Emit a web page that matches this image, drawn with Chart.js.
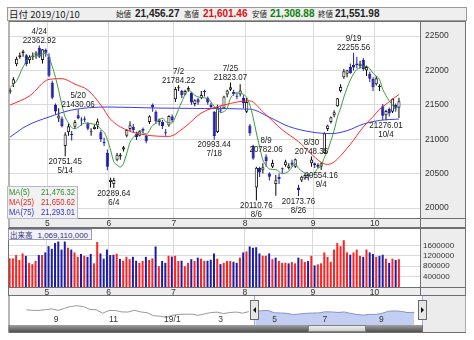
<!DOCTYPE html>
<html lang="ja">
<head>
<meta charset="utf-8">
<title>日経平均 日足</title>
<script src="https://cdn.jsdelivr.net/npm/chart.js"></script>
<style>
  html, body { margin: 0; padding: 0; background: #fff; }
  body { position: relative; width: 474px; height: 340px; overflow: hidden; }
  canvas { position: absolute; }
  #price { z-index: 1; }
  #volume { z-index: 2; }
  #nav { z-index: 2; }
  #head { position: absolute; left: 7px; top: 7px; width: 458px; height: 12px; background: #efefef;
          border: 1px solid #9a9a9a; color: #222; z-index: 5; font-family: "Noto Sans CJK JP", sans-serif; }
  #head span { position: absolute; top: 0; line-height: 12px; white-space: nowrap; }
  #head .lab { font-size: 7.5px; }
  #head .date { font-size: 9.5px; }
  #head .val { font: bold 10px "Liberation Sans", sans-serif; }
  #maBox { position: absolute; left: 7px; top: 186px; width: 69px; height: 31px; z-index: 5;
           background: rgba(240,240,240,0.9); border: 1px solid #b8b8c8;
           font: 9px "Liberation Sans", sans-serif; }
  #maBox div { position: relative; height: 10px; line-height: 10px; }
  #maBox span { position: absolute; left: 1px; transform: scaleX(0.85); transform-origin: left center; }
  #maBox i { position: absolute; right: 2px; font-style: normal; transform: scaleX(0.85); transform-origin: right center; }
  #volTitle { position: absolute; left: 8px; top: 229px; width: 82px; height: 9px; z-index: 5;
              background: #f2f2f8; border: 1px solid #9a9ac0; color: #33337a; white-space: nowrap;
              font: 8px "Liberation Sans", sans-serif; line-height: 9px; }
  #volTitle span { font-family: "Noto Sans CJK JP", sans-serif; font-size: 7.5px; margin: 0 5px 0 1px; }
</style>
</head>
<body>
<div id="head"></div>
<div id="maBox"></div>
<div id="volTitle"></div>
<canvas id="price"></canvas>
<canvas id="volume"></canvas>
<canvas id="nav"></canvas>
<script>
// ---- values ----
const dates = ['4/11','4/12','4/15','4/16','4/17','4/18','4/19','4/22','4/23','4/24','4/25','4/26',
  '5/7','5/8','5/9','5/10','5/13','5/14','5/15','5/16','5/17','5/20','5/21','5/22','5/23','5/24','5/27','5/28','5/29','5/30','5/31',
  '6/3','6/4','6/5','6/6','6/7','6/10','6/11','6/12','6/13','6/14','6/17','6/18','6/19','6/20','6/21','6/24','6/25','6/26','6/27','6/28',
  '7/1','7/2','7/3','7/4','7/5','7/8','7/9','7/10','7/11','7/12','7/16','7/17','7/18','7/19','7/22','7/23','7/24','7/25','7/26','7/29','7/30','7/31',
  '8/1','8/2','8/5','8/6','8/7','8/8','8/9','8/13','8/14','8/15','8/16','8/19','8/20','8/21','8/22','8/23','8/26','8/27','8/28','8/29','8/30',
  '9/2','9/3','9/4','9/5','9/6','9/9','9/10','9/11','9/12','9/13','9/17','9/18','9/19','9/20','9/24','9/25','9/26','9/27','9/30',
  '10/1','10/2','10/3','10/4','10/7','10/8','10/9','10/10'];

const opens = [21690,21800,22090,22190,22250,22220,22150,22190,22220,22330,22150,22300,
  22200,21820,21500,21300,21300,20900,21100,21080,21180,21350,21280,21300,21230,21100,21150,21200,21100,20960,20800,
  20380,20350,20700,20750,20850,21050,21150,21180,21080,21050,21150,21050,21250,21500,21400,21250,21250,21100,21200,21330,
  21580,21740,21700,21650,21720,21680,21510,21580,21600,21700,21600,21500,21400,21100,21430,21450,21650,21720,21690,21630,21650,21600,
  21400,21200,20900,20300,20580,20550,20750,20500,20600,20350,20450,20570,20620,20580,20660,20600,20300,20400,20430,20480,20650,
  20650,20600,20600,20800,21150,21250,21350,21480,21700,21900,21950,22050,22080,22100,22060,22150,22000,21950,21880,
  21800,21760,21480,21350,21440,21400,21500,21456.27];
const highs = [21740,21900,22200,22260,22300,22240,22220,22260,22280,22362.92,22310,22320,
  22250,21850,21520,21450,21330,21100,21230,21120,21280,21430.06,21320,21330,21250,21160,21210,21300,21130,21020,20850,
  20440,20440,20800,20800,20900,21150,21260,21220,21110,21130,21170,21060,21350,21520,21420,21300,21280,21150,21350,21360,
  21758,21784.22,21720,21720,21770,21690,21580,21600,21700,21720,21620,21530,21410,21500,21480,21630,21720,21823.07,21720,21680,21800,21640,
  21600,21220,20920,20600,20600,20650,20782.06,20520,20700,20480,20500,20590,20700,20650,20700,20720,20340,20470,20500,20500,20748.35,
  20660,20650,20660,21100,21210,21330,21420,21600,21800,22020,22010,22100,22255.56,22200,22140,22180,22070,21980,21900,
  21920,21800,21510,21430,21460,21590,21520,21601.46];
const lows = [21660,21760,22060,22170,22200,22060,22100,22150,22170,22180,22100,22200,
  21900,21580,21360,21250,21170,20751.45,21050,20980,21150,21290,21200,21250,21130,21050,21140,21150,20960,20900,20550,
  20300,20289.64,20680,20700,20820,21030,21120,21100,20990,21040,21080,20940,21220,21400,21230,21200,21150,21050,21180,21250,
  21540,21700,21600,21640,21690,21500,21480,21500,21580,21620,21500,21440,20993.44,21090,21380,21440,21610,21700,21630,21580,21620,21450,
  21380,21050,20700,20110.76,20450,20500,20600,20400,20580,20180,20350,20500,20600,20560,20600,20580,20173.76,20380,20410,20400,20600,
  20580,20580,20554.16,20790,21120,21230,21320,21470,21680,21880,21900,21950,22000,22030,22030,21990,21920,21830,21700,
  21780,21700,21280,21276.01,21330,21380,21400,21308.88];
const closes = [21711,21870,22169,22221,22277,22090,22200,22217,22259,22200,22307,22258,
  21923,21602,21402,21344,21191,21067,21188,21062,21250,21301,21272,21283,21151,21117,21182,21260,21003,20942,20601,
  20410,20408,20776,20774,20884,21134,21204,21129,21032,21116,21124,20972,21333,21462,21258,21285,21193,21086,21338,21275,
  21729,21754,21638,21702,21746,21534,21565,21533,21643,21685,21535,21469,21046,21466,21416,21620,21709,21756,21658,21616,21709,21521,
  21540,21087,20720,20585,20516,20593,20684,20455,20655,20405,20418,20563,20677,20618,20628,20710,20261,20456,20479,20460,20704,
  20620,20625,20649,21085,21199,21318,21392,21597,21759,21988,22001,21960,22044,22079,22098,22020,22048,21878,21755,
  21885,21778,21341,21410,21375,21587,21456,21551.98];
const closeBefore = 21687.57; // 4/10, colours the first volume bar

// volume in thousand shares
const volumes = [1100000,1100000,1230000,1040000,1290000,1200000,930000,880000,1000000,1230000,1230000,1330000,
  1570000,1470000,1690000,1750000,1440000,1750000,1510000,1440000,1330000,1160000,1270000,1200000,1160000,1270000,910000,1730000,1290000,1090000,1440000,
  1230000,1240000,1280000,1080000,1010000,1160000,1070000,1160000,1010000,930000,1000000,1160000,1040000,1100000,1560000,800000,1000000,930000,1200000,1170000,
  1200000,1000000,1010000,800000,930000,1070000,1000000,1130000,1090000,1010000,1010000,1050000,1290000,1090000,880000,930000,1000000,1000000,970000,930000,1130000,1330000,
  1370000,1560000,1510000,1530000,1290000,1200000,1200000,1290000,1070000,1130000,1000000,930000,930000,910000,960000,910000,1130000,1070000,960000,1000000,1200000,
  830000,870000,910000,1330000,1160000,970000,1440000,1690000,1570000,1800000,1330000,1240000,1330000,1440000,1200000,1160000,1440000,1330000,1270000,
  1160000,1200000,1240000,1090000,930000,1090000,1040000,1069110];

// moving averages: [day index, value]
const ma5 = [[0,21754],[2,21848],[4,22050],[6,22191],[8,22209],[10,22237],[11,22248],[12,22189],[13,22058],[14,21898],
  [15,21706],[16,21492],[17,21321],[18,21238],[19,21170],[20,21152],[21,21174],[23,21234],[25,21225],[27,21199],[28,21143],
  [29,21101],[30,20998],[31,20843],[32,20673],[33,20627],[34,20594],[35,20650],[36,20795],[37,20954],[38,21025],[39,21077],
  [40,21123],[42,21075],[44,21201],[45,21230],[47,21306],[48,21257],[50,21235],[51,21324],[52,21436],[53,21547],[55,21714],
  [57,21637],[59,21604],[61,21592],[63,21476],[64,21440],[65,21386],[66,21403],[67,21451],[68,21593],[70,21672],[72,21652],
  [73,21609],[74,21495],[75,21315],[76,21091],[77,20890],[78,20700],[79,20620],[80,20567],[82,20558],[84,20499],[86,20536],
  [88,20639],[89,20579],[91,20507],[93,20472],[95,20578],[96,20612],[97,20737],[98,20836],[99,20975],[100,21129],[101,21318],
  [102,21453],[103,21611],[104,21747],[105,21861],[106,21950],[107,22014],[108,22036],[110,22058],[111,22025],[112,21960],
  [113,21917],[114,21869],[115,21727],[116,21634],[117,21558],[118,21498],[119,21434],[120,21476]];
const ma25 = [[0,21497],[6,21628],[12,21870],[16,21880],[20,21800],[24,21713],[28,21497],[31,21290],[36,21134],[42,21061],
  [49,21041],[54,21180],[59,21381],[66,21497],[74,21558],[78,21399],[84,21137],[89,20965],[96,20665],[98,20634],[100,20670],
  [102,20760],[104,20869],[106,20985],[108,21119],[110,21232],[112,21327],[114,21435],[116,21508],[118,21580],[120,21650]];
const ma75 = [[0,21032],[5,21192],[12,21323],[19,21424],[30,21468],[45,21453],[60,21446],[74,21437],[80,21320],[86,21185],
  [93,21105],[99,21081],[104,21124],[109,21220],[114,21273],[120,21293]];
const maLatest = [['MA(5)', 21476.32, '#2f8f2f'], ['MA(25)', 21650.62, '#e82828'], ['MA(75)', 21293.01, '#3434c8']];

const priceTicks = [20000, 20500, 21000, 21500, 22000, 22500];
const volumeTicks = [400000, 800000, 1200000, 1600000];

const peaks = [['4/24',22362.92],['5/20',21430.06],['7/2',21784.22],['7/25',21823.07],['8/9',20782.06],['8/30',20748.35],['9/19',22255.56]];
const troughs = [['5/14',20751.45],['6/4',20289.64],['7/18',20993.44],['8/6',20110.76],['8/26',20173.76],['9/4',20554.16],['10/4',21276.01]];

// navigator: weekly closes 2018/8 - 2019/10
const navWeeks = ['8/3','8/10','8/17','8/24','8/31','9/7','9/14','9/21','9/28','10/5','10/12','10/19','10/26','11/2','11/9',
  '11/16','11/22','11/30','12/7','12/14','12/21','12/28','1/4','1/11','1/18','1/25','2/1','2/8','2/15','2/22','3/1','3/8',
  '3/15','3/22','3/29','4/5','4/12','4/19','4/26','5/10','5/17','5/24','5/31','6/7','6/14','6/21','6/28','7/5','7/12','7/19',
  '7/26','8/2','8/9','8/16','8/23','8/30','9/6','9/13','9/20','9/27','10/4','10/10'];
const navCloses = [22525,22298,22270,22601,22865,22307,23094,23870,24120,23784,22694,22532,21184,22243,22250,
  21680,21646,22351,21679,21374,20166,20015,19561,20359,20666,20773,20788,20333,20900,21425,21602,21025,
  21450,21627,21205,21807,21870,22200,22258,21344,21250,21117,20601,20884,21116,21258,21275,21746,21685,21466,
  21658,21087,20684,20418,20710,20704,21199,21988,22079,21878,21410,21551];
const navMonths = [[4.15,'9'],[12.85,'11'],[21.5,'19/1'],[30,'3'],[38.5,'5'],[46.4,'7'],[55.3,'9']];
const navRange = [35.8, 62.2];
const scrollThumb = [44.3, 53.4];

// ---- helpers ----
const FAM = '"Liberation Sans", sans-serif';
const DOWN = '#1c1ca4';
const n = dates.length;
const isUp = closes.map((c, i) => c >= opens[i]);
const volUp = closes.map((c, i) => c >= (i ? closes[i - 1] : closeBefore));
const monthStarts = [];
dates.forEach((d, i) => {
  const m = d.split('/')[0];
  if (i > 0 && m !== dates[i - 1].split('/')[0]) monthStarts.push({ i, label: m });
});
const fmt = v => v.toLocaleString('en-US', { minimumFractionDigits: 2, maximumFractionDigits: 2 });

Chart.defaults.font.family = FAM;
Chart.defaults.color = '#333';

// header, legend, volume title
const last = n - 1;
const head = document.getElementById('head');
head.innerHTML =
  '<span class="date" style="left:1px">日付 2019/10/10</span>' +
  '<span class="lab" style="left:108px">始値</span><span class="val" style="left:127px">' + fmt(opens[last]) + '</span>' +
  '<span class="lab" style="left:176px">高値</span><span class="val" style="left:195px;color:#e01010">' + fmt(highs[last]) + '</span>' +
  '<span class="lab" style="left:244px">安値</span><span class="val" style="left:262px;color:#108010">' + fmt(lows[last]) + '</span>' +
  '<span class="lab" style="left:310px">終値</span><span class="val" style="left:327px">' + fmt(closes[last]) + '</span>';
document.getElementById('maBox').innerHTML = maLatest.map(m =>
  '<div style="color:' + m[2] + '"><span>' + m[0] + '</span><i>' + fmt(m[1]) + '</i></div>').join('');
document.getElementById('volTitle').innerHTML = '<span>出来高</span>' + (volumes[last] * 1000).toLocaleString('en-US');

// gray axis panel + strip, white plot, frame
const panel = {
  id: 'panel',
  beforeDraw(chart, args, o) {
    const { ctx, chartArea: a } = chart;
    ctx.save();
    ctx.fillStyle = '#ededed';
    ctx.fillRect(a.left, a.top, a.right - a.left + o.rightW, a.bottom - a.top + o.stripH);
    ctx.fillStyle = '#fff';
    ctx.fillRect(a.left, a.top, a.right - a.left, a.bottom - a.top);
    ctx.restore();
  },
  afterDraw(chart, args, o) {
    const { ctx, chartArea: a } = chart;
    ctx.save();
    ctx.strokeStyle = '#707070';
    ctx.lineWidth = 1;
    ctx.strokeRect(a.left + 0.5, a.top + 0.5, a.right - a.left + o.rightW - 1, a.bottom - a.top + o.stripH - 1);
    ctx.beginPath();
    ctx.moveTo(a.right + 0.5, a.top);
    ctx.lineTo(a.right + 0.5, a.bottom + o.stripH);
    ctx.moveTo(a.left, a.bottom + 0.5);
    ctx.lineTo(a.right + o.rightW, a.bottom + 0.5);
    ctx.stroke();
    ctx.restore();
  }
};

// high / low captions (slightly condensed, like the original bitmap font)
function narrowText(ctx, t, x, y) {
  ctx.save();
  ctx.translate(x, y);
  ctx.scale(0.84, 1);
  ctx.fillText(t, 0, 0);
  ctx.restore();
}
const marks = {
  id: 'marks',
  afterDatasetsDraw(chart) {
    const { ctx, scales: { x, y } } = chart;
    ctx.save();
    ctx.font = '9.5px ' + FAM;
    ctx.fillStyle = '#222';
    ctx.textAlign = 'center';
    ctx.textBaseline = 'middle';
    peaks.forEach(([d, v]) => {
      const px = x.getPixelForValue(dates.indexOf(d)), py = y.getPixelForValue(v);
      narrowText(ctx, d, px, py - 14);
      narrowText(ctx, v.toFixed(2), px, py - 5);
    });
    troughs.forEach(([d, v]) => {
      const px = x.getPixelForValue(dates.indexOf(d)), py = y.getPixelForValue(v);
      narrowText(ctx, v.toFixed(2), px, py + 5);
      narrowText(ctx, d, px, py + 14);
    });
    ctx.restore();
  }
};

function monthAxis(stripH) {
  return {
    type: 'linear', min: -0.5, max: n + 5.5, bounds: 'data', offset: false,
    afterBuildTicks: s => { s.ticks = monthStarts.map(m => ({ value: m.i - 0.5 })); },
    afterFit: s => { s.height = stripH; },
    ticks: { autoSkip: false, maxRotation: 0, padding: 1, font: { size: 8.5, lineHeight: '9px' },
             callback: (v, k) => monthStarts[k] ? monthStarts[k].label : '' },
    grid: { color: '#dadada', drawTicks: false, offset: false },
    border: { display: false }
  };
}

// place chart so its plot area starts at (x, y)
function fitChart(canvas, x, y, w, h, config) {
  canvas.width = w;
  canvas.height = h;
  canvas.style.left = x + 'px';
  canvas.style.top = y + 'px';
  const chart = new Chart(canvas, config);
  const dx = Math.round(chart.chartArea.left), dy = Math.round(chart.chartArea.top);
  if (dx || dy) {
    canvas.style.left = (x - dx) + 'px';
    canvas.style.top = (y - dy) + 'px';
    chart.resize(w + dx, h + dy);
  }
  return chart;
}

const lineSet = (pts, color) => ({
  type: 'line', data: pts.map(p => ({ x: p[0], y: p[1] })), borderColor: color, borderWidth: 1,
  pointRadius: 0, cubicInterpolationMode: 'monotone', order: 0
});

const base = {
  responsive: false, maintainAspectRatio: false, animation: false, events: [],
  layout: { padding: 0 }
};

// ---- price chart ----
fitChart(document.getElementById('price'), 8, 21, 458, 207, {
  type: 'bar',
  data: {
    datasets: [
      lineSet(ma5, '#3f9a3f'),
      lineSet(ma25, '#ff2a2a'),
      lineSet(ma75, '#3c3cf0'),
      {
        data: dates.map((d, i) => ({ x: i, y: [opens[i], closes[i]] })),
        backgroundColor: isUp.map(u => u ? '#ffffff' : DOWN),
        borderColor: isUp.map(u => u ? '#222222' : DOWN),
        borderWidth: 1, borderSkipped: false, barThickness: 3.2, inflateAmount: 0,
        minBarLength: 1, grouped: false, order: 1
      },
      {
        data: dates.map((d, i) => ({ x: i, y: [lows[i], highs[i]] })),
        backgroundColor: isUp.map(u => u ? '#000000' : DOWN),
        barThickness: 1, inflateAmount: 0, grouped: false, order: 2
      }
    ]
  },
  options: {
    ...base,
    plugins: { legend: { display: false }, tooltip: { enabled: false }, panel: { rightW: 46, stripH: 10 } },
    scales: {
      x: monthAxis(10),
      y: {
        position: 'right', min: 19855, max: 22718, bounds: 'data',
        afterBuildTicks: s => { s.ticks = priceTicks.map(v => ({ value: v })); },
        afterFit: s => { s.width = 46; },
        ticks: { padding: 5, font: { size: 8.5, lineHeight: '10px' }, callback: v => String(v) },
        grid: { color: '#dadada', drawTicks: false },
        border: { display: false }
      }
    }
  },
  plugins: [panel, marks]
});

// ---- volume chart ----
fitChart(document.getElementById('volume'), 8, 228, 458, 68, {
  type: 'bar',
  data: {
    datasets: [{
      data: volumes.map((v, i) => ({ x: i, y: v })),
      backgroundColor: volUp.map(u => u ? '#ff2222' : DOWN),
      barThickness: 2, inflateAmount: 0, grouped: false
    }]
  },
  options: {
    ...base,
    plugins: { legend: { display: false }, tooltip: { enabled: false }, panel: { rightW: 46, stripH: 9 } },
    scales: {
      x: monthAxis(9),
      y: {
        position: 'right', min: 0, max: 2270000, bounds: 'data',
        afterBuildTicks: s => { s.ticks = volumeTicks.map(v => ({ value: v })); },
        afterFit: s => { s.width = 46; },
        ticks: { padding: 3, font: { size: 8, lineHeight: '10px' }, callback: v => String(v) },
        grid: { color: '#dadada', drawTicks: false },
        border: { display: false }
      }
    }
  },
  plugins: [panel]
});

// ---- navigator ----
const navDecor = {
  id: 'navDecor',
  beforeDraw(chart) {
    const { ctx, chartArea: a, width, height } = chart;
    ctx.save();
    ctx.fillStyle = '#ececec';
    ctx.fillRect(a.right, 0, width - a.right, height);
    ctx.fillStyle = '#fff';
    ctx.fillRect(a.left, a.top, a.right - a.left, a.bottom - a.top);
    ctx.restore();
  },
  afterDraw(chart) {
    const { ctx, chartArea: a, scales: { x }, width } = chart;
    ctx.save();
    ctx.font = '8.5px ' + FAM;
    ctx.fillStyle = '#333';
    ctx.textAlign = 'left';
    ctx.textBaseline = 'middle';
    navMonths.forEach(([v, t]) => ctx.fillText(t, x.getPixelForValue(v) + 1, a.bottom - 5));

    // scroll bar
    const g = ctx.createLinearGradient(0, a.bottom, 0, a.bottom + 7);
    g.addColorStop(0, '#a0a0a0');
    g.addColorStop(1, '#505050');
    ctx.fillStyle = g;
    ctx.fillRect(a.left, a.bottom, a.right - a.left, 7);
    const t0 = Math.round(x.getPixelForValue(scrollThumb[0])), t1 = Math.round(x.getPixelForValue(scrollThumb[1]));
    const g2 = ctx.createLinearGradient(0, a.bottom, 0, a.bottom + 7);
    g2.addColorStop(0, '#f6f6f6');
    g2.addColorStop(1, '#c4c4c4');
    ctx.fillStyle = g2;
    ctx.fillRect(t0, a.bottom + 0.5, t1 - t0, 6);
    ctx.strokeStyle = '#808080';
    ctx.strokeRect(t0 + 0.5, a.bottom + 0.5, t1 - t0 - 1, 6);

    // frame
    ctx.strokeStyle = '#707070';
    ctx.strokeRect(a.left + 0.5, a.top - 0.5, width - 1, a.bottom - a.top + 8);
    ctx.beginPath();
    ctx.moveTo(a.right + 0.5, a.top);
    ctx.lineTo(a.right + 0.5, a.bottom + 7);
    ctx.stroke();

    // range handles
    navRange.forEach((v, k) => {
      const px = Math.round(x.getPixelForValue(v));
      ctx.strokeStyle = '#9db0e4';
      ctx.beginPath();
      ctx.moveTo(px + 0.5, a.top);
      ctx.lineTo(px + 0.5, a.bottom);
      ctx.stroke();
      ctx.fillStyle = '#e6e6e6';
      ctx.strokeStyle = '#6a6a6a';
      ctx.fillRect(px - 4, a.top + 4, 9, 20);
      ctx.strokeRect(px - 3.5, a.top + 4.5, 8, 19);
      ctx.fillStyle = '#111';
      ctx.beginPath();
      const cy = a.top + 14;
      if (k === 0) { ctx.moveTo(px - 1, cy); ctx.lineTo(px + 2, cy - 3); ctx.lineTo(px + 2, cy + 3); }
      else { ctx.moveTo(px + 2, cy); ctx.lineTo(px - 1, cy - 3); ctx.lineTo(px - 1, cy + 3); }
      ctx.fill();
    });
    ctx.restore();
  }
};

const navPts = navCloses.map((v, i) => ({ x: i, y: v }));
fitChart(document.getElementById('nav'), 8, 296, 458, 37, {
  type: 'line',
  data: {
    labels: navWeeks,
    datasets: [
      { data: navPts.filter(p => p.x >= navRange[0]), borderColor: '#8794c4', backgroundColor: '#c3cff2',
        fill: 'start', borderWidth: 1, pointRadius: 0, tension: 0 },
      { data: navPts.filter(p => p.x <= navRange[0]), borderColor: '#9a9a9a', borderWidth: 1, pointRadius: 0, tension: 0 }
    ]
  },
  options: {
    ...base,
    layout: { padding: { top: 1, right: 44, bottom: 8, left: 0 } },
    plugins: { legend: { display: false }, tooltip: { enabled: false } },
    scales: {
      x: { type: 'linear', display: false, min: -2.8, max: 62.2, bounds: 'data' },
      y: { display: false, min: 16500, max: 28000 }
    }
  },
  plugins: [navDecor]
});
</script>
</body>
</html>
